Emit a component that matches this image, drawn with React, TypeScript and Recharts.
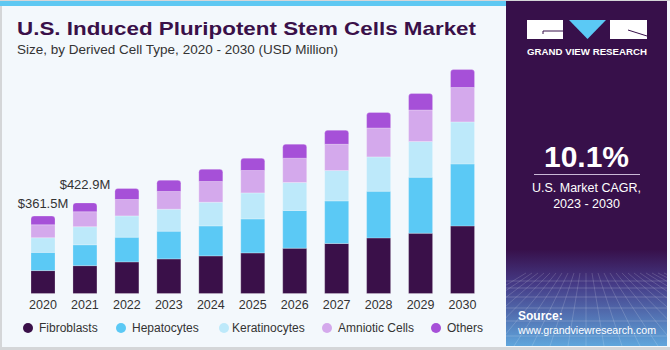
import React from 'react';
import { BarChart, Bar, XAxis, YAxis, LabelList } from 'recharts';

const years = ['2020', '2021', '2022', '2023', '2024', '2025', '2026', '2027', '2028', '2029', '2030'];
const fibroblasts = [107, 130, 147.6, 161.6, 175.6, 189.6, 211.6, 233.5, 259.7, 281.6, 315.7];
const hepatocytes = [85, 97.5, 115.3, 129.4, 140.1, 158.8, 176.1, 198.9, 218.1, 261.5, 289.5];
const keratinocytes = [68.5, 84.5, 99.5, 102.7, 110.7, 121.4, 130.8, 142, 160.2, 166.7, 196.1];
const amnioticCells = [60.5, 70, 76.6, 82.7, 96.7, 104.6, 113.5, 122.8, 135.4, 147.6, 160.6];
const others = [40.5, 40.9, 51.4, 52.8, 57.4, 57.4, 65.4, 65.4, 71.9, 76.6, 84.1];
const totalLabels = ['$361.5M', '$422.9M'];

const seriesNames = ['Fibroblasts', 'Hepatocytes', 'Keratinocytes', 'Amniotic Cells', 'Others'];
const seriesKeys = ['fib', 'hep', 'ker', 'amn', 'oth'];
const seriesColors = ['#3a1049', '#5bc9f5', '#bde9fa', '#d4a9ec', '#a650d8'];

const data = years.map((y, i) => ({
  year: y,
  fib: fibroblasts[i],
  hep: hepatocytes[i],
  ker: keratinocytes[i],
  amn: amnioticCells[i],
  oth: others[i],
}));

const FONT = '"Liberation Sans", Arial, sans-serif';
const labelGaps = [8, 14];

const renderTotal = (props: any) => {
  const { x, y, width, index } = props;
  if (index >= totalLabels.length) return null;
  return (
    <text
      x={x + width / 2}
      y={y - labelGaps[index]}
      textAnchor="middle"
      fontSize={13}
      fontFamily={FONT}
      fill="#333"
    >
      {totalLabels[index]}
    </text>
  );
};

const legendPos = [
  { c: 28, t: 39 },
  { c: 121, t: 132 },
  { c: 224, t: 232 },
  { c: 327, t: 338 },
  { c: 436, t: 447 },
];

function Panel() {
  const lines: React.ReactNode[] = [];
  for (let i = 0; i < 9; i++) {
    const yy = 280 + i * i * 1.0 + i * 6;
    lines.push(<line key={'h' + i} x1={0} x2={161} y1={yy} y2={yy} stroke="#ffffff" strokeOpacity={0.18} strokeWidth={1} />);
  }
  for (let i = -10; i <= 22; i++) {
    const xTop = 80 + i * 6;
    const xBot = 80 + i * 18;
    lines.push(<line key={'v' + i} x1={xTop} x2={xBot} y1={272} y2={345} stroke="#ffffff" strokeOpacity={0.16} strokeWidth={1} />);
  }
  return (
    <div style={{ position: 'absolute', left: 506, top: 1, width: 161, height: 345 }}>
      <svg width={161} height={345} style={{ position: 'absolute', left: 0, top: 0 }}>
        <defs>
          <linearGradient id="pg" x1="0" y1="0" x2="0" y2="1">
            <stop offset="0" stopColor="#37104a" />
            <stop offset="0.72" stopColor="#37104a" />
            <stop offset="0.82" stopColor="#453a86" />
            <stop offset="1" stopColor="#5fa6dc" />
          </linearGradient>
        </defs>
        <rect x={0} y={0} width={161} height={345} fill="url(#pg)" />
        {lines}
        <rect x={21} y={19} width={36} height={19} fill="#ffffff" />
        <polyline points="57,30 37,30 37,33" fill="none" stroke="#37104a" strokeWidth={1} />
        <polygon points="63,19 100,19 81.5,38" fill="#5bc9f5" />
        <rect x={104} y={19} width={37} height={19} fill="#ffffff" />
        <line x1={122} y1={29} x2={141} y2={35} stroke="#37104a" strokeWidth={1} />
        <text x={21} y={54} fontSize={9} fontWeight="bold" fontFamily={FONT} fill="#ffffff" textLength={120} lengthAdjust="spacingAndGlyphs">
          GRAND VIEW RESEARCH
        </text>
        <text x={80.5} y={166} textAnchor="middle" fontSize={30} fontWeight="bold" fontFamily={FONT} fill="#ffffff">
          10.1%
        </text>
        <line x1={28} x2={134} y1={173.5} y2={173.5} stroke="#c9b8d6" strokeWidth={1} />
        <text x={80.5} y={191} textAnchor="middle" fontSize={12.5} fontFamily={FONT} fill="#ffffff">
          U.S. Market CAGR,
        </text>
        <text x={80.5} y={207} textAnchor="middle" fontSize={12.5} fontFamily={FONT} fill="#ffffff">
          2023 - 2030
        </text>
        <text x={12} y={319} fontSize={12} fontWeight="bold" fontFamily={FONT} fill="#ffffff">
          Source:
        </text>
        <text x={12} y={332.5} fontSize={11} fontFamily={FONT} fill="#ffffff" textLength={138} lengthAdjust="spacingAndGlyphs">
          www.grandviewresearch.com
        </text>
      </svg>
    </div>
  );
}

export default function App() {
  return (
    <div
      style={{
        position: 'absolute',
        left: 0,
        top: 0,
        width: 670,
        height: 350,
        background: '#f3f8fc',
        overflow: 'hidden',
        fontFamily: FONT,
      }}
    >
      <div style={{ position: 'absolute', left: 0, top: 0, width: 2, height: 350, background: '#d4d6d8' }} />
      <div style={{ position: 'absolute', left: 0, top: 347, width: 670, height: 3, background: '#d4d6d8' }} />
      <div style={{ position: 'absolute', left: 0, top: 0, width: 670, height: 1, background: '#d4d6d8' }} />
      <div style={{ position: 'absolute', left: 0, top: 1, width: 506, height: 5, background: '#5ec8f2' }} />
      <svg width={500} height={60} style={{ position: 'absolute', left: 0, top: 0 }}>
        <text
          x={17}
          y={35}
          fontSize={19}
          fontWeight="bold"
          fontFamily={FONT}
          fill="#3a1049"
          textLength={459}
          lengthAdjust="spacingAndGlyphs"
        >
          U.S. Induced Pluripotent Stem Cells Market
        </text>
        <text
          x={17}
          y={53.5}
          fontSize={12.5}
          fontFamily={FONT}
          fill="#333"
          textLength={321}
          lengthAdjust="spacingAndGlyphs"
        >
          Size, by Derived Cell Type, 2020 - 2030 (USD Million)
        </text>
      </svg>
      <Panel />
      <div style={{ position: 'absolute', left: 0, top: 0 }}>
        <BarChart
          width={670}
          height={350}
          data={data}
          margin={{ top: 58, right: 186.5, left: 22, bottom: 26.5 }}
        >
          <XAxis
            dataKey="year"
            axisLine={false}
            tickLine={false}
            tickSize={5}
            height={30}
            interval={0}
            tick={{ fontSize: 12.5, fill: '#333', fontFamily: FONT }}
          />
          <YAxis hide domain={[0, 1100]} />
          {seriesKeys.map((k, i) => (
            <Bar
              key={k}
              dataKey={k}
              stackId="a"
              barSize={24}
              fill={seriesColors[i]}
              stroke="rgba(255,255,255,0.3)"
              strokeWidth={0.8}
              radius={i === seriesKeys.length - 1 ? [3, 3, 0, 0] : 0}
              isAnimationActive={false}
            >
              {i === seriesKeys.length - 1 ? <LabelList dataKey={k} content={renderTotal} /> : null}
            </Bar>
          ))}
        </BarChart>
      </div>
      {seriesNames.map((n, i) => (
        <React.Fragment key={n}>
          <div
            style={{
              position: 'absolute',
              left: legendPos[i].c - 5,
              top: 323,
              width: 10,
              height: 10,
              borderRadius: 5,
              background: seriesColors[i],
            }}
          />
          <div
            style={{
              position: 'absolute',
              left: legendPos[i].t,
              top: 320,
              fontSize: 12,
              lineHeight: '16px',
              color: '#333',
              whiteSpace: 'nowrap',
            }}
          >
            {n}
          </div>
        </React.Fragment>
      ))}
    </div>
  );
}
